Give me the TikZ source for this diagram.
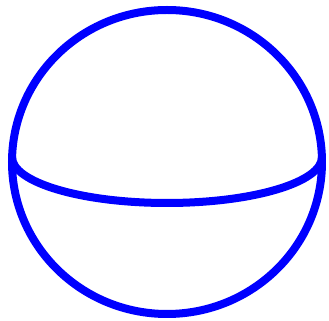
\documentclass[tikz,border=0pt]{standalone}

\begin{document}
\begin{tikzpicture}[x=0.5pt,y=0.5pt]
\tikzset{
  sphereline/.style={draw=blue,line width=4pt},
}
\useasboundingbox (0,0) rectangle (329,321);
\coordinate (c_ball) at (167,159);
\coordinate (c_eq) at (167,164);
\draw[sphereline] (c_ball) ellipse[x radius=155, y radius=152];
\draw[sphereline] (c_eq) ++(-155,0) arc[start angle=180, end angle=360, x radius=155, y radius=46];
\end{tikzpicture}
\end{document}
